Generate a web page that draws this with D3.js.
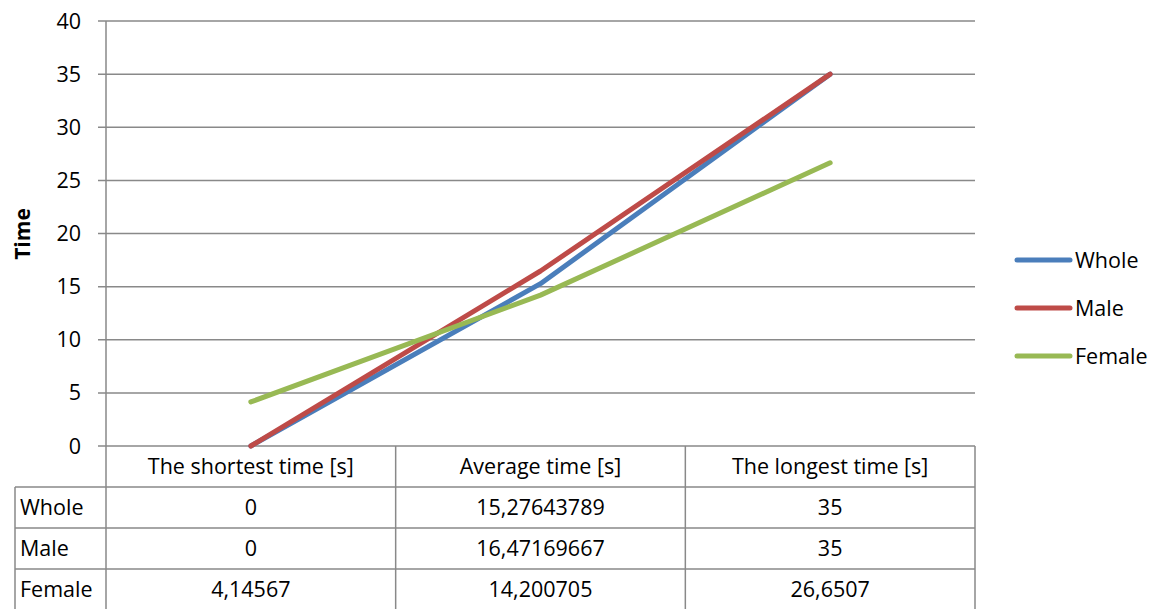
<!DOCTYPE html>
<html>
<head>
<meta charset="utf-8">
<script src="https://d3js.org/d3.v7.min.js"></script>
<style>
  html, body { margin: 0; padding: 0; background: #fff; }
  svg { display: block; font-family: "Open Sans", Lato, sans-serif; }
</style>
</head>
<body>
<svg id="chart" width="1163" height="609"></svg>
<script>
// Time measurements per group
const categories = ["The shortest time [s]", "Average time [s]", "The longest time [s]"];
const seriesNames = ["Whole", "Male", "Female"];
const wholeValues = [0, 15.27643789, 35];
const maleValues = [0, 16.47169667, 35];
const femaleValues = [4.14567, 14.200705, 26.6507];
const tableText = [
  ["0", "15,27643789", "35"],
  ["0", "16,47169667", "35"],
  ["4,14567", "14,200705", "26,6507"]
];
const yTicks = [0, 5, 10, 15, 20, 25, 30, 35, 40];
const seriesColors = ["#4A7EBB", "#BE4B48", "#98B954"];

const series = [wholeValues, maleValues, femaleValues].map((v, i) => ({
  name: seriesNames[i], values: v, color: seriesColors[i], text: tableText[i]
}));

const svg = d3.select("#chart");
const plot = { left: 106, right: 975, top: 21, bottom: 446 };
const gridColor = "#898989";
const fontSize = 21.5;

const x = d3.scaleBand().domain(categories).range([plot.left, plot.right]);
const y = d3.scaleLinear().domain([0, 40]).range([plot.bottom, plot.top]);

// Horizontal gridlines with left tick stubs
svg.append("g").selectAll("line").data(yTicks).join("line")
  .attr("x1", plot.left - 8).attr("x2", plot.right)
  .attr("y1", d => y(d)).attr("y2", d => y(d))
  .attr("stroke", gridColor).attr("stroke-width", 1.5);

// Y tick labels
svg.append("g").selectAll("text").data(yTicks).join("text")
  .attr("x", 81).attr("y", d => y(d)).attr("dy", "0.35em")
  .attr("text-anchor", "end").attr("font-size", fontSize).attr("fill", "#000")
  .text(d => d);

// Axis title
svg.append("text")
  .attr("transform", `translate(30,234) rotate(-90)`)
  .attr("text-anchor", "middle").attr("font-size", 21).attr("font-weight", "bold")
  .text("Time");

// Data table geometry
const rowH = 41;
const headerTop = plot.bottom;
const rowTops = series.map((s, i) => headerTop + rowH * (i + 1));
const tableLeft = 15;
const tableBottom = headerTop + rowH * 4;

const tbl = svg.append("g").attr("stroke", gridColor).attr("stroke-width", 1.5);
// vertical lines: y axis extended, category boundaries
const bounds = categories.map(c => x(c)).concat([plot.right]);
tbl.selectAll("line.v").data(bounds).join("line").attr("class", "v")
  .attr("x1", d => d).attr("x2", d => d)
  .attr("y1", (d, i) => i === 0 ? plot.top : headerTop)
  .attr("y2", tableBottom);
// left border of the row header column
tbl.append("line").attr("x1", tableLeft).attr("x2", tableLeft)
  .attr("y1", rowTops[0]).attr("y2", tableBottom);
// horizontal row lines
tbl.selectAll("line.h").data(rowTops.concat([tableBottom])).join("line").attr("class", "h")
  .attr("x1", tableLeft).attr("x2", plot.right)
  .attr("y1", d => d).attr("y2", d => d);

// Header text
svg.append("g").selectAll("text").data(categories).join("text")
  .attr("x", d => x(d) + x.bandwidth() / 2).attr("y", headerTop + rowH / 2).attr("dy", "0.35em")
  .attr("text-anchor", "middle").attr("font-size", fontSize).text(d => d);

// Rows: legend key names and values
series.forEach((s, i) => {
  const cy = rowTops[i] + rowH / 2;
  svg.append("text").attr("x", tableLeft + 5).attr("y", cy).attr("dy", "0.35em")
    .attr("font-size", fontSize).text(s.name);
  svg.append("g").selectAll("text").data(categories).join("text")
    .attr("x", d => x(d) + x.bandwidth() / 2).attr("y", cy).attr("dy", "0.35em")
    .attr("text-anchor", "middle").attr("font-size", fontSize)
    .text((d, j) => s.text[j]);
});

// Lines
const line = d3.line()
  .x((d, i) => x(categories[i]) + x.bandwidth() / 2)
  .y(d => y(d));
svg.append("g").selectAll("path").data(series).join("path")
  .attr("d", d => line(d.values))
  .attr("fill", "none").attr("stroke", d => d.color)
  .attr("stroke-width", 5).attr("stroke-linecap", "round").attr("stroke-linejoin", "round");

// Legend
const legend = svg.append("g").selectAll("g").data(series).join("g")
  .attr("transform", (d, i) => `translate(1017,${260 + i * 48})`);
legend.append("line").attr("x1", 0).attr("x2", 53).attr("y1", 0).attr("y2", 0)
  .attr("stroke", d => d.color).attr("stroke-width", 5).attr("stroke-linecap", "round");
legend.append("text").attr("x", 58).attr("y", 0).attr("dy", "0.35em")
  .attr("font-size", fontSize).text(d => d.name);
</script>
</body>
</html>
